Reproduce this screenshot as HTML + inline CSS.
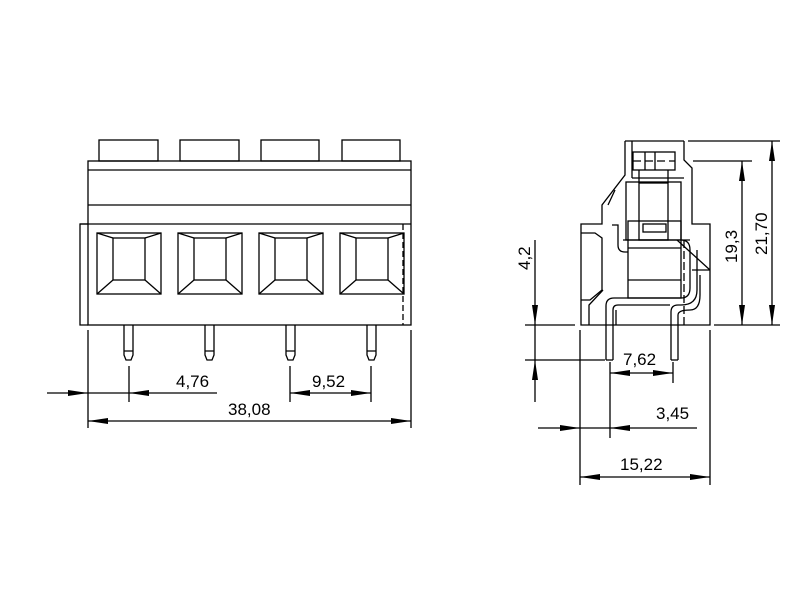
<!DOCTYPE html>
<html><head><style>html,body{margin:0;padding:0;background:#fff}svg{display:block}text{font-family:"Liberation Sans",sans-serif;font-size:17px;fill:#000}</style></head>
<body>
<svg width="800" height="600" viewBox="0 0 800 600" xmlns="http://www.w3.org/2000/svg">
<g fill="none" stroke="#000" stroke-width="1.3">
<!-- LEFT VIEW -->
<rect x="99" y="140" width="59" height="21"/>
<rect x="180" y="140" width="59" height="21"/>
<rect x="261" y="140" width="58" height="21"/>
<rect x="342" y="140" width="58" height="21"/>
<rect x="88" y="161" width="323" height="164"/>
<line x1="88" y1="170" x2="411" y2="170"/>
<line x1="88" y1="205" x2="411" y2="205"/>
<line x1="80" y1="224" x2="411" y2="224"/>
<polyline points="88,224 80,224 80,325 88,325"/>
<line x1="403" y1="224" x2="403" y2="325" stroke-dasharray="6,3"/>
<g id="sq">
<rect x="97" y="233" width="64" height="61"/>
<rect x="113" y="238" width="32" height="42"/>
<line x1="97" y1="233" x2="113" y2="238"/><line x1="161" y1="233" x2="145" y2="238"/>
<line x1="97" y1="294" x2="113" y2="280"/><line x1="161" y1="294" x2="145" y2="280"/>
<path d="M124,325 V355 L126,360 H131 L133,355 V325 M124,351 H133"/>
</g>
<use href="#sq" x="81"/><use href="#sq" x="162"/><use href="#sq" x="243"/>
<!-- dims left -->
<line x1="88" y1="330" x2="88" y2="428"/><line x1="411" y1="330" x2="411" y2="428"/>
<line x1="129" y1="366" x2="129" y2="402"/><line x1="290" y1="366" x2="290" y2="402"/><line x1="371" y1="366" x2="371" y2="402"/>
<line x1="47" y1="393" x2="217" y2="393"/>
<line x1="290" y1="393" x2="371" y2="393"/>
<line x1="88" y1="421" x2="411" y2="421"/>
<!-- RIGHT VIEW -->
<polyline points="625,141 684,141"/>
<polyline points="625,141 625,175 602,205 602,224 581,224 581,325 710,325 710,224 692,224 692,168 684,160 684,141"/>
<line x1="632" y1="141" x2="632" y2="178"/>
<line x1="632" y1="178" x2="684" y2="178"/>
<rect x="633" y="152" width="42" height="18"/>
<line x1="645" y1="152" x2="645" y2="170"/><line x1="655" y1="152" x2="655" y2="170"/>
<line x1="633" y1="161" x2="675" y2="161" stroke-dasharray="8,4"/>
<rect x="626" y="182" width="55" height="58"/>
<rect x="639" y="183" width="29" height="57"/>
<line x1="639" y1="170" x2="639" y2="183"/><line x1="668" y1="170" x2="668" y2="183"/>
<rect x="628" y="221" width="53" height="77"/>
<rect x="643" y="224" width="23" height="8"/>
<line x1="623" y1="240" x2="690" y2="240"/>
<line x1="628" y1="248" x2="681" y2="248"/>
<line x1="628" y1="280" x2="681" y2="280"/>
<line x1="684" y1="240" x2="684" y2="325" stroke-dasharray="8,3"/>
<path d="M612,225 H618 V245 Q618,252 625,252 H628"/>
<path d="M608,205 L615,190"/>
<path d="M581,233 H595 L602,238 V290 L590,300 L581,300"/>
<path d="M589,325 V305 L603,290"/>
<path d="M606,360 V306 Q606,298 614,298 H681 Q690,298 690,288 V250 Q690,240 681,240"/>
<path d="M613,360 V310 Q613,305 618,305 H670"/>
<path d="M671,360 V312 Q671,305 678,305 H681 Q697,305 697,290 V250"/>
<path d="M678,360 V315 Q678,310 690,310 Q700,310 700,295 V275"/>
<line x1="606" y1="360" x2="613" y2="360"/><line x1="671" y1="360" x2="678" y2="360"/>
<line x1="616" y1="325" x2="616" y2="310"/><line x1="677" y1="240" x2="710" y2="270"/>
<line x1="692" y1="270" x2="710" y2="270"/>
<!-- dims right -->
<line x1="525" y1="325" x2="575" y2="325"/>
<line x1="525" y1="360" x2="605" y2="360"/>
<line x1="535" y1="240" x2="535" y2="402"/>
<line x1="610" y1="362" x2="610" y2="438"/>
<line x1="673" y1="362" x2="673" y2="383"/>
<line x1="610" y1="373" x2="673" y2="373"/>
<line x1="538" y1="428" x2="697" y2="428"/>
<line x1="580" y1="330" x2="580" y2="485"/><line x1="710" y1="330" x2="710" y2="485"/>
<line x1="580" y1="477" x2="710" y2="477"/>
<line x1="693" y1="161" x2="752" y2="161"/>
<line x1="688" y1="141" x2="780" y2="141"/>
<line x1="714" y1="325" x2="780" y2="325"/>
<line x1="742" y1="161" x2="742" y2="325"/>
<line x1="772" y1="141" x2="772" y2="325"/>
</g>
<g fill="#000">
<!-- left arrows -->
<polygon points="88,393 68,390 68,396"/>
<polygon points="129,393 149,390 149,396"/>
<polygon points="290,393 310,390 310,396"/>
<polygon points="371,393 351,390 351,396"/>
<polygon points="88,421 108,418 108,424"/>
<polygon points="411,421 391,418 391,424"/>
<!-- right arrows -->
<polygon points="535,325 532,305 538,305"/>
<polygon points="535,360 532,380 538,380"/>
<polygon points="610,373 630,370 630,376"/>
<polygon points="673,373 653,370 653,376"/>
<polygon points="580,428 560,425 560,431"/>
<polygon points="610,428 630,425 630,431"/>
<polygon points="580,477 600,474 600,480"/>
<polygon points="710,477 690,474 690,480"/>
<polygon points="742,161 739,181 745,181"/>
<polygon points="742,325 739,305 745,305"/>
<polygon points="772,141 769,161 775,161"/>
<polygon points="772,325 769,305 775,305"/>
</g>
<text x="176" y="387">4,76</text>
<text x="312" y="387">9,52</text>
<text x="228" y="415">38,08</text>
<text x="623" y="365">7,62</text>
<text x="656" y="419">3,45</text>
<text x="620" y="470">15,22</text>
<text transform="translate(530,270) rotate(-90)">4,2</text>
<text transform="translate(737,263) rotate(-90)">19,3</text>
<text transform="translate(767,255) rotate(-90)">21,70</text>
</svg>
</body></html>
